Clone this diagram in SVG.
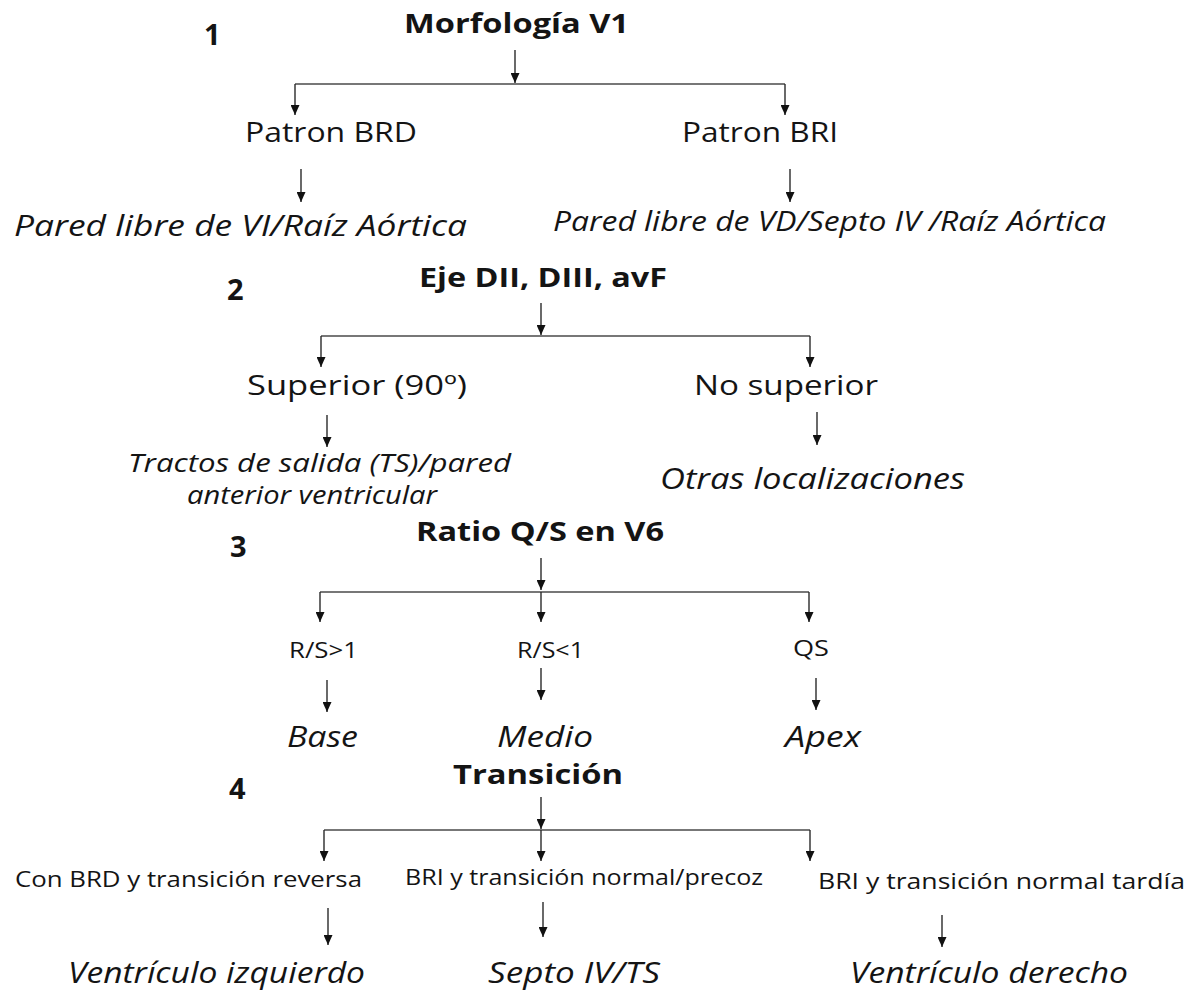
<svg xmlns="http://www.w3.org/2000/svg" width="1196" height="993" viewBox="0 0 1196 993">
<defs>
<marker id="ah" markerUnits="userSpaceOnUse" markerWidth="10" markerHeight="9" viewBox="0 0 10 9" refX="10" refY="4.5" orient="auto">
<path d="M0,0 L10,4.5 L0,9 Z" fill="#111"/>
</marker>
<style>
text{font-family:"Open Sans","Liberation Sans",sans-serif;fill:#141414}
.num{font-weight:bold;font-size:29px}
.hd{font-weight:bold;font-size:26px}
.lb{font-size:27px}
.it{font-style:italic;font-size:30px}
.it2{font-style:italic;font-size:28px}
.it3{font-style:italic;font-size:25px}
.sm{font-size:21px}
.s4{font-size:21px}
.ln{stroke:#4a4a4a;stroke-width:1.6;fill:none}
.ar{stroke:#2a2a2a;stroke-width:1.4;fill:none;marker-end:url(#ah)}
</style>
</defs>
<rect width="1196" height="993" fill="#ffffff"/>
<g id="connectors">
<path class="ar" d="M515,50 V83"/>
<path class="ln" d="M295,84 H785"/>
<path class="ar" d="M295,84 V115"/>
<path class="ar" d="M785,84 V115"/>
<path class="ar" d="M301,169 V202"/>
<path class="ar" d="M790,169 V202"/>
<path class="ar" d="M541,303 V335"/>
<path class="ln" d="M321,336 H810"/>
<path class="ar" d="M321,336 V367"/>
<path class="ar" d="M810,336 V367"/>
<path class="ar" d="M327,415 V447"/>
<path class="ar" d="M817,412 V445"/>
<path class="ar" d="M541,558 V590"/>
<path class="ln" d="M320,592 H809"/>
<path class="ar" d="M320,592 V622"/>
<path class="ar" d="M541,592 V622"/>
<path class="ar" d="M809,592 V622"/>
<path class="ar" d="M327,680 V712"/>
<path class="ar" d="M541,668 V700"/>
<path class="ar" d="M816,678 V710"/>
<path class="ar" d="M541,797 V829"/>
<path class="ln" d="M324,830 H810"/>
<path class="ar" d="M324,830 V861"/>
<path class="ar" d="M541,830 V861"/>
<path class="ar" d="M810,830 V861"/>
<path class="ar" d="M328,908 V945"/>
<path class="ar" d="M543,902 V937"/>
<path class="ar" d="M942,915 V947"/>
</g>
<g id="step1"><text class="num" x="204" y="45">1</text></g>
<g id="morfologia"><text class="hd" x="404" y="33" textLength="225" lengthAdjust="spacingAndGlyphs">Morfología V1</text></g>
<g id="patron-brd"><text class="lb" x="245" y="142" textLength="172" lengthAdjust="spacingAndGlyphs">Patron BRD</text></g>
<g id="patron-bri"><text class="lb" x="682" y="142" textLength="156" lengthAdjust="spacingAndGlyphs">Patron BRI</text></g>
<g id="pared-vi"><text class="it" x="14" y="236" textLength="453" lengthAdjust="spacingAndGlyphs">Pared libre de VI/Raíz Aórtica</text></g>
<g id="pared-vd"><text class="it2" x="553" y="231" textLength="553" lengthAdjust="spacingAndGlyphs">Pared libre de VD/Septo IV /Raíz Aórtica</text></g>
<g id="step2"><text class="num" x="227" y="300">2</text></g>
<g id="eje"><text class="hd" x="419" y="287" textLength="248" lengthAdjust="spacingAndGlyphs">Eje DII, DIII, avF</text></g>
<g id="superior"><text class="lb" x="247" y="395" textLength="220" lengthAdjust="spacingAndGlyphs">Superior (90º)</text></g>
<g id="no-superior"><text class="lb" x="694" y="395" textLength="184" lengthAdjust="spacingAndGlyphs">No superior</text></g>
<g id="tractos"><text class="it3" x="128" y="472" textLength="383" lengthAdjust="spacingAndGlyphs">Tractos de salida (TS)/pared</text><text class="it3" x="187" y="504" textLength="250" lengthAdjust="spacingAndGlyphs">anterior ventricular</text></g>
<g id="otras"><text class="it" x="660" y="489" textLength="305" lengthAdjust="spacingAndGlyphs">Otras localizaciones</text></g>
<g id="step3"><text class="num" x="230" y="557">3</text></g>
<g id="ratio"><text class="hd" x="416" y="541" textLength="248" lengthAdjust="spacingAndGlyphs">Ratio Q/S en V6</text></g>
<g id="rs-gt"><text class="sm" x="289" y="658" textLength="69" lengthAdjust="spacingAndGlyphs">R/S&gt;1</text></g>
<g id="rs-lt"><text class="sm" x="517" y="658" textLength="67" lengthAdjust="spacingAndGlyphs">R/S&lt;1</text></g>
<g id="qs"><text class="sm" x="793" y="656" textLength="36" lengthAdjust="spacingAndGlyphs">QS</text></g>
<g id="base"><text class="it" x="287" y="747" textLength="71" lengthAdjust="spacingAndGlyphs">Base</text></g>
<g id="medio"><text class="it" x="497" y="747" textLength="96" lengthAdjust="spacingAndGlyphs">Medio</text></g>
<g id="apex"><text class="it" x="785" y="747" textLength="76" lengthAdjust="spacingAndGlyphs">Apex</text></g>
<g id="step4"><text class="num" x="229" y="799">4</text></g>
<g id="transicion"><text class="hd" x="453" y="784" textLength="170" lengthAdjust="spacingAndGlyphs">Transición</text></g>
<g id="con-brd"><text class="s4" x="15" y="887" textLength="347" lengthAdjust="spacingAndGlyphs">Con BRD y transición reversa</text></g>
<g id="bri-precoz"><text class="s4" x="405" y="885" textLength="358" lengthAdjust="spacingAndGlyphs">BRI y transición normal/precoz</text></g>
<g id="bri-tardia"><text class="s4" x="818" y="889" textLength="367" lengthAdjust="spacingAndGlyphs">BRI y transición normal tardía</text></g>
<g id="vent-izq"><text class="it" x="68" y="983" textLength="297" lengthAdjust="spacingAndGlyphs">Ventrículo izquierdo</text></g>
<g id="septo"><text class="it" x="488" y="983" textLength="172" lengthAdjust="spacingAndGlyphs">Septo IV/TS</text></g>
<g id="vent-der"><text class="it" x="850" y="983" textLength="278" lengthAdjust="spacingAndGlyphs">Ventrículo derecho</text></g>
</svg>
